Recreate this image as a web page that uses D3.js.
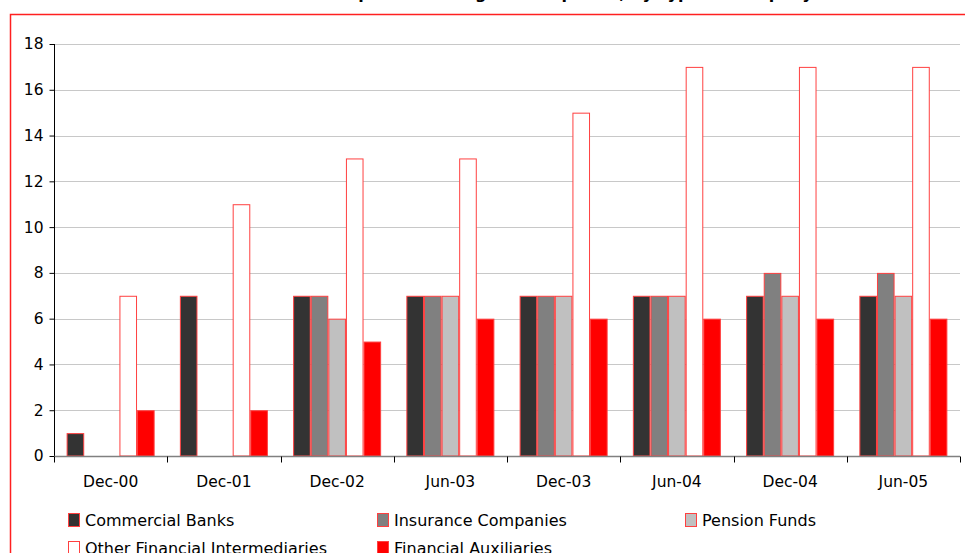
<!DOCTYPE html>
<html>
<head>
<meta charset="utf-8">
<script src="https://cdn.jsdelivr.net/npm/d3@7"></script>
<style>
  html, body { margin: 0; padding: 0; background: #fff; }
  svg { display: block; }
  text { font-family: "DejaVu Sans", sans-serif; fill: #000; }
</style>
</head>
<body>
<svg id="chart" width="965" height="553"></svg>
<script>
const categories = ["Dec-00", "Dec-01", "Dec-02", "Jun-03", "Dec-03", "Jun-04", "Dec-04", "Jun-05"];
const seriesNames = ["Commercial Banks", "Insurance Companies", "Pension Funds", "Other Financial Intermediaries", "Financial Auxiliaries"];
const commercialBanks = [1, 7, 7, 7, 7, 7, 7, 7];
const insuranceCompanies = [0, 0, 7, 7, 7, 7, 8, 8];
const pensionFunds = [0, 0, 6, 7, 7, 7, 7, 7];
const otherFinancialIntermediaries = [7, 11, 13, 13, 15, 17, 17, 17];
const financialAuxiliaries = [2, 2, 5, 6, 6, 6, 6, 6];
const yTicks = [0, 2, 4, 6, 8, 10, 12, 14, 16, 18];
const titleText = "Number of Financial Groups with Foreign Participation, by Type of Company";

const seriesValues = [commercialBanks, insuranceCompanies, pensionFunds, otherFinancialIntermediaries, financialAuxiliaries];
const colors = ["#333333", "#808080", "#c0c0c0", "#ffffff", "#ff0000"];
const strokeCol = "#ff4040";

const svg = d3.select("#chart");

// outer frame
svg.append("rect")
  .attr("x", 10.5).attr("y", 14.5)
  .attr("width", 1000).attr("height", 600)
  .attr("fill", "none").attr("stroke", "#ff2020").attr("stroke-width", 1.5);

// title (mostly clipped at top)
svg.append("text")
  .attr("x", 470).attr("y", -1)
  .attr("text-anchor", "middle")
  .attr("font-weight", "bold")
  .attr("font-size", 16)
  .text(titleText);

const plotL = 54, plotR = 960, plotT = 44, plotB = 456;

const x0 = d3.scaleBand().domain(categories).range([plotL, plotR]).paddingInner(0).paddingOuter(0);
const x1 = d3.scaleBand().domain(seriesNames).range([0, x0.bandwidth()]).paddingInner(0).paddingOuter(0.717);
const y = d3.scaleLinear().domain([0, 18]).range([plotB, plotT]);

// gridlines
svg.append("g")
  .selectAll("line")
  .data(yTicks.filter(t => t > 0))
  .join("line")
  .attr("x1", plotL).attr("x2", plotR)
  .attr("y1", d => Math.round(y(d)) + 0.5).attr("y2", d => Math.round(y(d)) + 0.5)
  .attr("stroke", "#c8c8c8").attr("stroke-width", 1);

// bars
const groups = svg.append("g")
  .selectAll("g")
  .data(categories)
  .join("g")
  .attr("transform", d => `translate(${x0(d)},0)`);

groups.selectAll("rect")
  .data((c, i) => seriesNames.map((s, j) => ({ s, j, v: seriesValues[j][i] })).filter(d => d.v > 0))
  .join("rect")
  .attr("x", d => x1(d.s) + 0.5)
  .attr("y", d => y(d.v) + 0.5)
  .attr("width", x1.bandwidth() - 1)
  .attr("height", d => y(0) - y(d.v) - 0.5)
  .attr("fill", d => colors[d.j])
  .attr("stroke", strokeCol)
  .attr("stroke-width", 1);

// y axis
const yAxis = d3.axisLeft(y).tickValues(yTicks).tickSize(5).tickPadding(6).tickFormat(d3.format("d"));
const gy = svg.append("g").attr("transform", `translate(${plotL + 0.5},0)`).call(yAxis);
gy.select(".domain").attr("stroke", "#000").attr("d", `M0,${plotT}V${plotB + 6}`);
gy.selectAll(".tick line").attr("stroke", "#000");
gy.selectAll(".tick text").attr("font-size", 15.5).attr("font-family", "DejaVu Sans").attr("fill", "#000");

// x axis
const gx = svg.append("g").attr("transform", `translate(0,${plotB + 0.5})`);
gx.append("line").attr("x1", plotL).attr("x2", plotR).attr("y1", 0).attr("y2", 0).attr("stroke", "#808080").attr("stroke-width", 1.5);
gx.selectAll("line.tk")
  .data(categories.map(c => x0(c)).concat([plotR]))
  .join("line").attr("class", "tk")
  .attr("x1", d => Math.round(d) + 0.5).attr("x2", d => Math.round(d) + 0.5)
  .attr("y1", 0).attr("y2", 6)
  .attr("stroke", "#000");
const xAxis = d3.axisBottom(x0).tickSize(0).tickPadding(20);
const gxl = svg.append("g").attr("transform", `translate(0,${plotB})`).call(xAxis);
gxl.select(".domain").remove();
gxl.selectAll(".tick text").attr("font-size", 15.5).attr("font-family", "DejaVu Sans").attr("fill", "#000");

// legend
const legendPos = [[68, 520], [377, 520], [685, 520], [68, 548], [377, 548]];
const lg = svg.append("g").selectAll("g").data(seriesNames).join("g")
  .attr("transform", (d, i) => `translate(${legendPos[i][0]},${legendPos[i][1]})`);
lg.append("rect")
  .attr("x", 0.5).attr("y", -6.5).attr("width", 11).attr("height", 13)
  .attr("fill", (d, i) => colors[i]).attr("stroke", strokeCol).attr("stroke-width", 1);
lg.append("text")
  .attr("x", 17).attr("y", 0).attr("dy", "0.36em")
  .attr("font-size", 16)
  .text(d => d);
</script>
</body>
</html>
